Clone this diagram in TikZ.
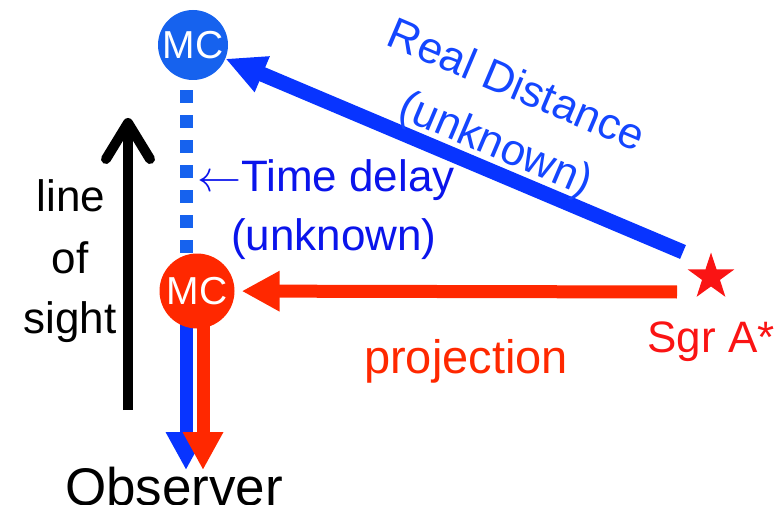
\documentclass[tikz,border=0pt]{standalone}
\usepackage{fix-cm}
\usepackage{fontspec}
\setmainfont{Liberation Sans}
\usetikzlibrary{arrows.meta,shapes.geometric}
\definecolor{mcblue}{RGB}{22,98,238}
\definecolor{distblue}{RGB}{8,52,255}
\definecolor{labelblue}{RGB}{20,70,255}
\definecolor{delayblue}{RGB}{10,20,235}
\definecolor{projred}{RGB}{255,40,0}
\definecolor{sgrred}{RGB}{250,20,20}
\tikzset{
  mcnode/.style={circle, text=white, minimum size=#1, inner sep=0pt, font=\fontsize{39}{39}\selectfont},
  fatarrow/.style={line width=13pt, -{Triangle[length=38pt,width=38pt]}},
  bigtext/.style={font=\fontsize{44}{44}\selectfont, inner sep=0pt},
}
\begin{document}
\begin{tikzpicture}[x=1pt, y=-1pt]
  \useasboundingbox (0,0) rectangle (779,505);

  % Define points
  \coordinate (obsblue) at (186,470);
  \coordinate (obsred) at (203,470);
  \coordinate (realstart) at (683,252);
  \coordinate (projstart) at (677,292);
  \coordinate (losbot) at (128,410);
  \coordinate (lostop) at (128,118);

  % Lines towards the observer
  \draw[fatarrow, distblue] (193,258 -| obsblue) -- (obsblue);
  \draw[fatarrow, projred] (203,320 -| obsred) -- (obsred);

  % Define vertices
  \node[mcnode=70pt, fill=mcblue] (mcfar) at (193,45) {MC};
  \node[mcnode=75pt, fill=projred] (mcnear) at (197,291) {MC};
  \node[star, star points=5, star point ratio=2.6, fill=sgrred, minimum size=49pt, inner sep=0pt] (sgr) at (711,277) {};

  % Draw edges
  \draw[mcblue, line width=13pt, dash pattern=on 13pt off 12pt, shorten <=10pt] (mcfar.south -| obsblue) -- (mcnear.north -| obsblue);
  \draw[distblue, line width=15pt, -{Triangle[length=40pt,width=36pt]}] (realstart) -- (mcfar);
  \draw[fatarrow, projred, shorten >=7pt] (projstart) -- (mcnear);
  \draw[line width=10pt, -{Straight Barb[length=36pt,width=44pt,round]}] (losbot) -- (lostop);

  % Add labels
  \node[bigtext, labelblue, rotate=-23] (realtext) at (517,84) {Real Distance};
  \node[bigtext, labelblue, rotate=-23] (realunk) at (495,146) {(unknown)};
  \node[bigtext, delayblue, anchor=base west] (delaytext) at (197,192) {$\leftarrow$Time delay};
  \node[bigtext, delayblue, anchor=base west] (delayunk) at (231,251) {(unknown)};
  \node[bigtext, anchor=base] (losline) at (71,212) {line};
  \node[bigtext, anchor=base] (losof) at (70,273) {of};
  \node[bigtext, anchor=base] (lossight) at (70,333) {sight};
  \node[bigtext, sgrred, anchor=base] (sgrlabel) at (711,352) {Sgr A*};
  \node[bigtext, projred, anchor=base, font=\fontsize{47}{47}\selectfont] (projtext) at (466,373) {projection};
  \node[font=\fontsize{53}{53}\selectfont, inner sep=0pt, anchor=base] (observer) at (174,505) {Observer};
\end{tikzpicture}
\end{document}
